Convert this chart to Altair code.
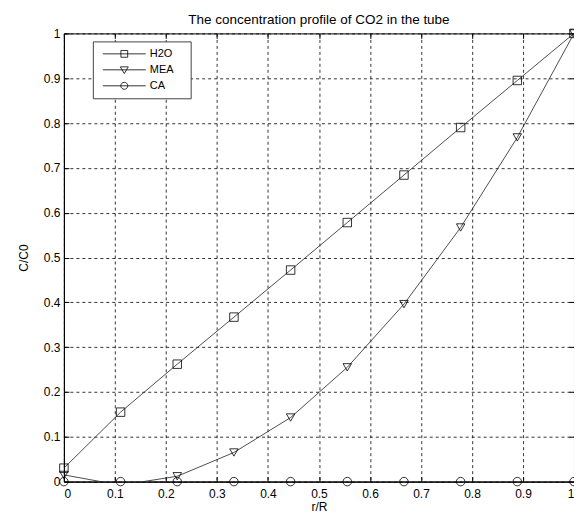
import altair as alt
import pandas as pd

# ---- data ----
r_over_R = [0.0, 1/9, 2/9, 3/9, 4/9, 5/9, 6/9, 7/9, 8/9, 1.0]
h2o = [0.030, 0.155, 0.262, 0.367, 0.472, 0.578, 0.684, 0.790, 0.895, 1.000]
mea = [0.015, -0.008, 0.012, 0.065, 0.143, 0.255, 0.396, 0.567, 0.768, 1.000]
ca = [0.0, 0.0, 0.0, 0.0, 0.0, 0.0, 0.0, 0.0, 0.0, 0.0]
series_names = ["H2O", "MEA", "CA"]
marker_shapes = ["square", "triangle-down", "circle"]
tick_values = [0.0, 0.1, 0.2, 0.3, 0.4, 0.5, 0.6, 0.7, 0.8, 0.9, 1.0]

rows = []
for name, vals in zip(series_names, [h2o, mea, ca]):
    for x, y in zip(r_over_R, vals):
        rows.append({"series": name, "r": x, "C": y})
df = pd.DataFrame(rows)

FONT = "Liberation Sans"

# legend symbols: line with marker (custom SVG paths, 1 unit = 5 px)
P_SQ = "M-4.3,0H4.3M-0.68,-0.68H0.68V0.68H-0.68Z"
P_TRI = "M-4.3,0H4.3M-0.8,-0.6H0.8L0,0.75Z"
P_CIR = "M-4.3,0H4.3M0.7,0A0.7,0.7,0,1,1,-0.7,0A0.7,0.7,0,1,1,0.7,0Z"
legend_paths = [P_SQ, P_TRI, P_CIR]

xs = alt.Scale(domain=[0, 1], nice=False, zero=False)
ys = alt.Scale(domain=[0, 1], nice=False, zero=False)

# main axes: labels + dashed grid
x_main = alt.X("r:Q", title="r/R", scale=xs,
               axis=alt.Axis(orient="bottom", values=tick_values, format=".1~f",
                             grid=True, labelPadding=7,
                             titleY=29, titleBaseline="alphabetic"))
y_main = alt.Y("C:Q", title="C/C0", scale=ys,
               axis=alt.Axis(orient="left", values=tick_values, format=".1~f",
                             grid=True, labelPadding=4,
                             titleX=-36, titleBaseline="alphabetic"))


def tick_axis(orient):
    return alt.Axis(orient=orient, values=tick_values, offset=-5, labels=False,
                    domain=False, grid=False, ticks=True, tickSize=5,
                    tickColor="black", tickWidth=1, title=None)


lines = alt.Chart(df).mark_line(stroke="#222", strokeWidth=0.8, clip=True).encode(
    x=x_main, y=y_main, detail="series:N", order="r:Q"
)

points = alt.Chart(df).transform_filter("datum.C >= 0").mark_point(
    filled=False, stroke="black", strokeWidth=0.8, size=72, opacity=1
).encode(
    x=alt.X("r:Q", scale=xs, axis=tick_axis("top")),
    y=alt.Y("C:Q", scale=ys, axis=tick_axis("right")),
    shape=alt.Shape("series:N",
                    scale=alt.Scale(domain=series_names, range=marker_shapes),
                    legend=None),
)

legend_layer = alt.Chart(df).transform_filter("false").mark_point(
    filled=False, stroke="black", strokeWidth=0.8, opacity=1
).encode(
    x=alt.X("r:Q", scale=xs, axis=tick_axis("bottom")),
    y=alt.Y("C:Q", scale=ys, axis=tick_axis("left")),
    shape=alt.Shape("series:N",
                    scale=alt.Scale(domain=series_names, range=legend_paths),
                    legend=alt.Legend(
                        title="ii", titleOrient="right", titleOpacity=0,
                        titleFontSize=11, titlePadding=3,
                        orient="none", legendX=29, legendY=8,
                        padding=7, symbolOffset=19, labelOffset=20,
                        rowPadding=4, symbolSize=100,
                        strokeColor="#444", fillColor="white",
                        symbolStrokeColor="black", symbolStrokeWidth=0.8,
                        symbolFillColor="transparent",
                        labelFont=FONT, labelFontSize=11, labelColor="black",
                    )),
)

chart = alt.layer(lines, points, legend_layer).resolve_scale(
    shape="independent"
).resolve_axis(
    x="independent", y="independent"
).properties(
    width=511, height=449,
    title=alt.TitleParams("The concentration profile of CO2 in the tube",
                          fontSize=13.5, fontWeight="normal", font=FONT,
                          color="black", anchor="middle", offset=1),
    autosize=alt.AutoSizeParams(type="none"),
    padding={"left": 56, "top": 25, "right": 0, "bottom": 37},
).configure_view(
    stroke="black", strokeWidth=1
).configure_axis(
    gridColor="black", gridDash=[3, 3], gridOpacity=1, gridWidth=0.8,
    domainColor="black", domainWidth=1, ticks=False,
    labelFont=FONT, labelFontSize=12, labelColor="black",
    titleFont=FONT, titleFontSize=12, titleFontWeight="normal", titleColor="black",
)

chart.save("out.html", embed_options={"renderer": "svg", "actions": False})
